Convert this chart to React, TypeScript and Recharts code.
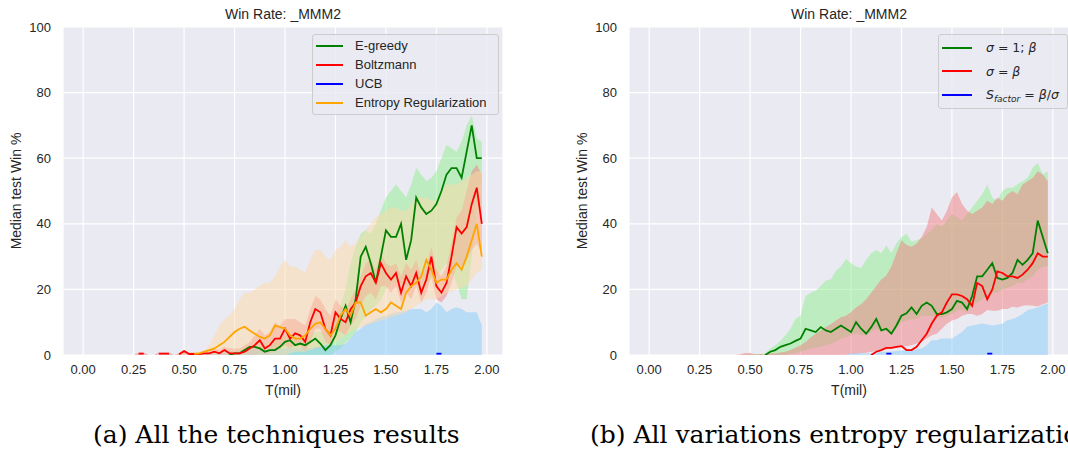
import React from "react";
import { ComposedChart, Area, Line, XAxis, YAxis, CartesianGrid, Legend } from "recharts";

const _ = null;

// training steps (millions)
const T = [
  0, 0.025, 0.05, 0.075, 0.1, 0.125, 0.15, 0.175, 0.2, 0.225,
  0.25, 0.275, 0.3, 0.325, 0.35, 0.375, 0.4, 0.425, 0.45, 0.475,
  0.5, 0.525, 0.55, 0.575, 0.6, 0.625, 0.65, 0.675, 0.7, 0.725,
  0.75, 0.775, 0.8, 0.825, 0.85, 0.875, 0.9, 0.925, 0.95, 0.975,
  1, 1.025, 1.05, 1.075, 1.1, 1.125, 1.15, 1.175, 1.2, 1.225,
  1.25, 1.275, 1.3, 1.325, 1.35, 1.375, 1.4, 1.425, 1.45, 1.475,
  1.5, 1.525, 1.55, 1.575, 1.6, 1.625, 1.65, 1.675, 1.7, 1.725,
  1.75, 1.775, 1.8, 1.825, 1.85, 1.875, 1.9, 1.925, 1.95, 1.975,
];
const X_TICKS = [0, 0.25, 0.5, 0.75, 1, 1.25, 1.5, 1.75, 2];
const Y_TICKS = [0, 20, 40, 60, 80, 100];

// (a) all the techniques
const eGreedy = [
  _, _, _, _, _, _, _, _, _, _,
  _, _, _, _, _, _, _, _, _, _,
  _, _, _, _, _, _, _, _, _, 0,
  0.5, 0.5, 1.5, 2.5, 2.5, 2, 1, 1.5, 1.5, 2.5,
  4, 4.5, 3, 3.5, 3, 4, 5, 3.5, 1.5, 3,
  6, 11, 15, 10, 17, 30, 33, 28, 22, 30,
  38, 36, 36, 40, 29, 35, 48, 45, 43, 44,
  46, 50, 55, 57, 57, 54, 62, 70, 60, 60,
];
const eGreedyLo = [
  0, 0, 0, 0, 0, 0, 0, 0, 0, 0,
  0, 0, 0, 0, 0, 0, 0, 0, 0, 0,
  0, 0, 0, 0, 0, 0, 0, 0, 0, 0,
  0, 0, 0, 0, 0, 0, 0, 0, 0, 0,
  0, 0, 0, 0, 0, 0, 0, 0, 0, 0,
  1, 2, 4, 5, 7, 10, 12, 14, 15, 17,
  20, 22, 22, 22, 21, 21, 22, 23, 22, 23,
  24, 26, 28, 26, 22, 17, 17, 30, 45, 54,
];
const eGreedyHi = [
  0, 0, 0, 0, 0, 0, 0, 0, 0, 0,
  0, 0, 0, 0, 0, 0, 0, 0, 0, 0,
  0, 0, 0, 0, 0, 0, 0, 0, 0.5, 0.8,
  1, 1.5, 2, 2.5, 3, 3, 3, 3.5, 4, 5,
  6, 6, 6, 5.5, 5, 6, 7, 7, 7, 9,
  11, 15, 20, 28, 33, 37, 38, 37, 40, 44,
  48, 50, 52, 50, 48, 52, 57, 55, 53, 54,
  56, 60, 64, 63, 62, 65, 70, 73, 66, 65,
];
const boltzmann = [
  _, _, _, _, _, _, _, _, _, _,
  _, 0.4, 0.4, _, _, 0.4, 0.4, 0.4, _, 0.2,
  1.2, 0.3, 0.3, 0.3, 0.5, 0.5, 1, 0.5, 1.5, 0.5,
  0.5, 0.5, 1, 2, 3, 4.5, 2, 3, 5, 5,
  8, 5, 6.6, 6, 4, 10, 14, 13, 8, 6,
  13, 11, 10, 14, 16, 21, 24, 25, 22, 28,
  25, 23, 25, 19, 24, 21, 25, 19, 23, 30,
  21, 19, 22, 30, 39, 37, 39, 46, 51, 40,
];
const boltzmannLo = [
  0, 0, 0, 0, 0, 0, 0, 0, 0, 0,
  0, 0, 0, 0, 0, 0, 0, 0, 0, 0,
  0, 0, 0, 0, 0, 0, 0, 0, 0, 0,
  0, 0, 0, 0, 0, 0.5, 0, 0.5, 1, 2,
  3, 2, 3, 3, 1, 4, 8, 8, 4, 3,
  8, 7, 6, 9, 11, 15, 18, 19, 17, 21,
  21, 19, 21, 16, 19, 17, 21, 16, 19, 24,
  17, 16, 18, 22, 27, 27, 29, 32, 34, 31,
];
const boltzmannHi = [
  0, 0, 0, 0, 0, 0, 0, 0, 0, 0,
  0, 0.8, 0.8, 0, 0, 0.8, 0.8, 0.8, 0, 0.5,
  1.5, 0.8, 0.8, 0.8, 1, 1.5, 2, 1.5, 2.5, 2,
  2, 2, 3, 4, 6, 8, 6, 7, 10, 9,
  11, 11, 11, 10, 9, 14, 18, 17, 14, 12,
  17, 15, 14, 17, 20, 24, 28, 29, 26, 31,
  28, 27, 28, 24, 28, 26, 29, 24, 27, 33,
  26, 24, 27, 34, 42, 44, 50, 56, 58, 55,
];
const ucb = [
  _, _, _, _, _, _, _, _, _, _,
  _, _, _, _, _, _, _, _, _, _,
  _, _, _, _, _, _, _, _, _, _,
  _, _, _, _, _, _, _, _, _, _,
  _, _, _, _, _, _, _, _, _, _,
  _, _, _, _, _, _, _, _, _, _,
  _, _, _, _, _, _, _, _, _, _,
  0.4, 0.4, _, _, _, _, _, _, _, _,
];
const ucbHi = [
  0, 0, 0, 0, 0, 0, 0, 0, 0, 0,
  0, 0, 0, 0, 0, 0, 0, 0, 0, 0,
  0, 0, 0.3, 0.3, 0.5, 0.5, 0.5, 0.8, 1, 1,
  1, 1.2, 1.5, 1.8, 2, 2, 2, 2, 2, 2,
  2, 2, 2, 2, 2, 2, 2.5, 2.5, 3, 3,
  3, 3, 3.5, 5, 7, 8, 9.5, 10, 11, 11.5,
  12, 12.5, 13, 13, 13.5, 14, 14, 14, 13, 14,
  16, 15, 13, 14, 14.5, 14, 13, 13, 13, 9,
];
const entropyReg = [
  _, _, _, _, _, _, _, _, _, _,
  _, _, _, _, _, _, _, _, _, _,
  _, _, 0.3, 0.5, 1, 1.5, 2, 3, 4, 5.5,
  7, 8, 8.6, 7.5, 6.5, 5.5, 5, 6, 9, 8.5,
  8, 6, 5, 5, 6, 8, 9.5, 10, 8, 6,
  8, 12, 14, 12, 16, 16, 12, 13, 14, 13,
  14, 16, 15, 14, 19, 21, 22, 24, 29, 26,
  22, 23, 23, 26, 28, 26, 30, 35, 40, 30,
];
const entropyRegLo = [
  0, 0, 0, 0, 0, 0, 0, 0, 0, 0,
  0, 0, 0, 0, 0, 0, 0, 0, 0, 0,
  0, 0, 0, 0, 0, 0, 0, 0, 0, 0,
  0, 0, 0, 0, 0, 0, 0, 0, 0, 0,
  0, 0.5, 1, 1, 1, 1.5, 2, 2.5, 3, 3.5,
  4, 5, 6, 7, 8, 8.5, 9, 9.5, 10, 10.5,
  11, 11.5, 12, 12.5, 13, 14, 15, 16, 17, 17,
  17, 18, 19, 19.5, 20, 20.5, 21, 23, 25, 26,
];
const entropyRegHi = [
  0, 0, 0, 0, 0, 0, 0, 0, 0, 0,
  0, 0, 0, 0, 0, 0, 0, 0, 0, 0,
  0.3, 0.5, 1, 1, 1, 3, 6, 9, 11, 12,
  14, 17, 19, 19, 20, 21, 22, 22, 24, 27,
  29, 27, 27, 26, 25, 29, 32, 32, 30, 29,
  32, 33, 35, 33, 34, 36, 38, 40, 42, 43,
  44, 45, 45, 44, 44, 46, 48, 48, 48, 47,
  47, 50, 52, 52, 52, 53, 54, 55, 56, 56,
];

// (b) entropy regularization variations
const sigmaOne = [
  _, _, _, _, _, _, _, _, _, _,
  _, _, _, _, _, _, _, _, _, _,
  _, _, _, 0, 1, 1.5, 2.5, 3, 3.5, 4.3,
  5, 8, 7.5, 7, 8.5, 7.5, 7, 8, 9, 8,
  7, 10, 8, 6.5, 8.5, 11, 7.5, 8, 6.5, 9,
  12, 12.7, 14.5, 12.5, 15, 16, 15, 12.5, 12.5, 13,
  14, 16.5, 16, 14, 18, 24, 24, 26, 28, 23.5,
  23, 23.5, 25, 29, 27.5, 29, 31, 41, 36, 31,
];
const sigmaOneLo = [
  0, 0, 0, 0, 0, 0, 0, 0, 0, 0,
  0, 0, 0, 0, 0, 0, 0, 0, 0, 0,
  0, 0, 0, 0, 0, 0, 0, 0, 0.3, 0.6,
  1, 1.5, 2, 2.2, 2.5, 3, 3.5, 4, 5, 5.5,
  6, 6.5, 6, 6, 7, 8, 7, 7.5, 6, 8,
  10, 10.5, 11, 11, 12, 12, 12, 11.5, 11.5, 12,
  12.5, 13.5, 14, 13, 15, 16, 17, 18, 19, 19,
  20, 20.5, 21, 22, 22, 23, 24, 26, 27, 27,
];
const sigmaOneHi = [
  0, 0, 0, 0, 0, 0, 0, 0, 0, 0,
  0, 0, 0, 0, 0, 0, 0, 0, 0, 0.2,
  0.3, 0.3, 0.3, 0.5, 2, 3, 4.3, 6, 8, 11,
  12, 18, 19, 19.6, 21, 22.7, 23, 25.7, 27, 29.3,
  28, 27, 26.5, 29, 31, 32, 31, 33.4, 31, 34,
  36, 37, 34.5, 35, 35.5, 37, 38, 40, 39, 41,
  43, 42, 41, 43, 45, 47, 49, 52, 48, 47,
  50, 51, 51, 52, 53, 54, 57, 58.6, 55, 56,
];
const sigmaBeta = [
  _, _, _, _, _, _, _, _, _, _,
  _, _, _, _, _, _, _, _, _, _,
  _, _, _, _, _, _, _, _, _, _,
  _, _, _, _, _, _, _, _, _, _,
  _, _, _, _, 0, 1, 1.5, 2.2, 2.2, 2.5,
  2.7, 1.5, 1.5, 2.5, 4.5, 6.5, 9.6, 12, 13, 16,
  18.5, 18.5, 18, 17, 15, 22, 21, 17, 20, 25.5,
  25, 24, 24, 23.5, 24.5, 26, 28, 31, 30, 30,
];
const sigmaBetaLo = [
  0, 0, 0, 0, 0, 0, 0, 0, 0, 0,
  0, 0, 0, 0, 0, 0, 0, 0, 0, 0,
  0, 0, 0, 0, 0, 0, 0, 0, 0, 0,
  0, 0, 0, 0, 0, 0, 0, 0, 0, 0,
  0.3, 0.4, 0.5, 0.7, 1, 1.2, 1.5, 1.7, 2, 2.2,
  2.5, 2.7, 3, 3.5, 4, 5, 6, 6.5, 8, 9.5,
  10.5, 11, 12, 12.5, 12.5, 12, 12.5, 13.7, 13.5, 13.5,
  14, 14, 14.7, 14.5, 15, 15.2, 15, 14.8, 15.5, 16,
];
const sigmaBetaHi = [
  0, 0, 0, 0, 0, 0, 0, 0, 0, 0,
  0, 0, 0, 0, 0, 0, 0, 0, 0.2, 0.6,
  0.6, 0.2, 0.3, 0.3, 0.5, 0.5, 0.8, 1, 1.5, 2.2,
  3, 4, 5.3, 6.5, 7.5, 8.5, 9.4, 10.5, 11.5, 12,
  13, 14.5, 15.5, 17, 19, 21, 23, 24.2, 27, 31,
  35, 33.5, 33, 34, 36, 39, 45, 43, 41, 44,
  48, 49.7, 46, 44, 43, 44, 45, 47, 46, 48,
  47, 49, 50, 49, 52, 53, 54, 56, 55, 53,
];
const sFactor = [
  _, _, _, _, _, _, _, _, _, _,
  _, _, _, _, _, _, _, _, _, _,
  _, _, _, _, _, _, _, _, _, _,
  _, _, _, _, _, _, _, _, _, _,
  _, _, _, _, _, _, _, 0.4, 0.4, _,
  _, _, _, _, _, _, _, _, _, _,
  _, _, _, _, _, _, _, 0.4, 0.4, _,
  _, _, _, _, _, _, _, _, _, _,
];
const sFactorHi = [
  0, 0, 0, 0, 0, 0, 0, 0, 0, 0,
  0, 0, 0, 0, 0, 0, 0, 0, 0, 0,
  0, 0, 0, 0, 0, 0, 0, 0, 0, 0,
  0, 0, 0, 0, 0, 0, 0, 0, 0, 0,
  0.5, 0.5, 0.5, 0.5, 0.5, 0.8, 1, 1, 1, 1.2,
  1.4, 1.5, 1.5, 1.8, 2, 3, 4.5, 4.5, 5, 5,
  5, 6, 7, 8.6, 9, 9.3, 9.6, 9.3, 9, 9.3,
  9.5, 10.6, 11, 11.6, 12.5, 13.7, 14, 14.5, 15.2, 15.7,
];

const BG = "#EAEAF2";
const TEXT = "#262626";
const FONT = '"Liberation Sans", Arial, sans-serif';
const MATH = '"DejaVu Sans", sans-serif';

type Series = {
  key: string;
  mid: (number | null)[];
  lo?: number[];
  hi: number[];
  color: string;
  band: string;
  label: React.ReactNode;
};

const seriesA: Series[] = [
  { key: "eg", mid: eGreedy, lo: eGreedyLo, hi: eGreedyHi, color: "#008000", band: "#90EE90", label: "E-greedy" },
  { key: "bz", mid: boltzmann, lo: boltzmannLo, hi: boltzmannHi, color: "#FF0000", band: "#F08080", label: "Boltzmann" },
  { key: "ucb", mid: ucb, hi: ucbHi, color: "#0000FF", band: "#87CEFA", label: "UCB" },
  { key: "er", mid: entropyReg, lo: entropyRegLo, hi: entropyRegHi, color: "#FFA500", band: "#FFD9A8", label: "Entropy Regularization" },
];

const it = (s: string) => <span style={{ fontStyle: "italic" }}>{s}</span>;

const seriesB: Series[] = [
  { key: "s1", mid: sigmaOne, lo: sigmaOneLo, hi: sigmaOneHi, color: "#008000", band: "#90EE90",
    label: <>{it("σ")} = 1; {it("β")}</> },
  { key: "sb", mid: sigmaBeta, lo: sigmaBetaLo, hi: sigmaBetaHi, color: "#FF0000", band: "#F08080",
    label: <>{it("σ")} = {it("β")}</> },
  { key: "sf", mid: sFactor, hi: sFactorHi, color: "#0000FF", band: "#87CEFA",
    label: <>{it("S")}<span style={{ fontStyle: "italic", fontSize: "0.72em", position: "relative", top: "0.3em" }}>factor</span> = {it("β")}/{it("σ")}</> },
];

type LegendBox = { left: number; top: number; width: number; height: number; row: number; sample: number; gap: number; font: string; size: number };

function Panel({ x, axisW, series, box }: { x: number; axisW: number; series: Series[]; box: LegendBox }) {
  const data = T.map((t, i) => {
    const row: Record<string, unknown> = { t };
    series.forEach((s) => {
      row[s.key] = s.mid[i];
      row[s.key + "Band"] = s.lo ? [s.lo[i], s.hi[i]] : s.hi[i];
    });
    return row;
  });
  const tick = { fill: TEXT, fontSize: 13, fontFamily: FONT };

  return (
    <div style={{ position: "absolute", left: x, top: 0 }}>
      <ComposedChart width={axisW + 440} height={400} data={data} margin={{ top: 27, right: 0, bottom: 0, left: 0 }}>
        <CartesianGrid fill={BG} fillOpacity={1} stroke="#ffffff" strokeWidth={1.2} />
        <XAxis
          type="number"
          dataKey="t"
          domain={[-0.1, 2.08]}
          ticks={X_TICKS}
          tickFormatter={(v: number) => v.toFixed(2)}
          axisLine={false}
          tickLine={false}
          tickSize={0}
          tickMargin={10}
          height={45}
          tick={tick}
          allowDataOverflow
        />
        <YAxis
          type="number"
          domain={[0, 100]}
          ticks={Y_TICKS}
          width={axisW}
          axisLine={false}
          tickLine={false}
          tickSize={0}
          tickMargin={12}
          tick={tick}
          allowDataOverflow
        />
        {series.map((s) => (
          <Area
            key={s.key + "Band"}
            dataKey={s.key + "Band"}
            type="linear"
            stroke="none"
            fill={s.band}
            fillOpacity={0.5}
            dot={false}
            activeDot={false}
            isAnimationActive={false}
          />
        ))}
        {series.map((s) => (
          <Line
            key={s.key}
            dataKey={s.key}
            type="linear"
            stroke={s.color}
            strokeWidth={1.8}
            dot={false}
            activeDot={false}
            isAnimationActive={false}
          />
        ))}
        <Legend
          layout="horizontal"
          verticalAlign="middle"
          align="center"
          wrapperStyle={{ left: box.left, top: box.top, width: box.width, height: box.height }}
          content={() => (
            <div
              style={{
                boxSizing: "border-box",
                width: box.width,
                height: box.height,
                border: "1px solid #cccccc",
                borderRadius: 3,
                background: "rgba(234,234,242,0.8)",
                padding: "1px 0 0 3px",
                fontFamily: box.font,
                fontSize: box.size,
                color: TEXT,
              }}
            >
              {series.map((s) => (
                <div key={s.key} style={{ display: "flex", alignItems: "center", height: box.row, whiteSpace: "nowrap" }}>
                  <span style={{ display: "inline-block", width: box.sample, borderTop: `2px solid ${s.color}`, marginRight: box.gap }} />
                  <span>{s.label}</span>
                </div>
              ))}
            </div>
          )}
        />
      </ComposedChart>
    </div>
  );
}

const titleStyle: React.CSSProperties = {
  position: "absolute", top: 5, width: 440, textAlign: "center", fontFamily: FONT, fontSize: 14, color: TEXT, lineHeight: "18px",
};
const xLabelStyle: React.CSSProperties = {
  position: "absolute", top: 381, width: 440, textAlign: "center", fontFamily: FONT, fontSize: 14, color: TEXT, lineHeight: "18px",
};
const yLabelStyle: React.CSSProperties = {
  position: "absolute", top: 182, width: 200, marginLeft: -100, textAlign: "center", fontFamily: FONT, fontSize: 14,
  color: TEXT, lineHeight: "18px", transform: "rotate(-90deg)",
};
const captionStyle: React.CSSProperties = {
  position: "absolute", top: 419, fontFamily: '"DejaVu Serif", serif', fontSize: 25, color: "#000", whiteSpace: "nowrap", lineHeight: "32px",
};

export default function App() {
  return (
    <div style={{ position: "absolute", left: 0, top: 0, width: 1068, height: 454, background: "#fff", overflow: "hidden" }}>
      <Panel
        x={0}
        axisW={63}
        series={seriesA}
        box={{ left: 312, top: 34, width: 187, height: 81, row: 19, sample: 27, gap: 12, font: FONT, size: 13 }}
      />
      <Panel
        x={534}
        axisW={95}
        series={seriesB}
        box={{ left: 404, top: 34, width: 130, height: 75, row: 23.5, sample: 30, gap: 14, font: MATH, size: 12.5 }}
      />
      <div style={{ ...titleStyle, left: 63 }}>Win Rate: _MMM2</div>
      <div style={{ ...titleStyle, left: 629 }}>Win Rate: _MMM2</div>
      <div style={{ ...xLabelStyle, left: 63 }}>T(mil)</div>
      <div style={{ ...xLabelStyle, left: 629 }}>T(mil)</div>
      <div style={{ ...yLabelStyle, left: 16 }}>Median test Win %</div>
      <div style={{ ...yLabelStyle, left: 582 }}>Median test Win %</div>
      <div style={{ ...captionStyle, left: 93 }}>(a) All the techniques results</div>
      <div style={{ ...captionStyle, left: 590 }}>(b) All variations entropy regularization</div>
    </div>
  );
}
